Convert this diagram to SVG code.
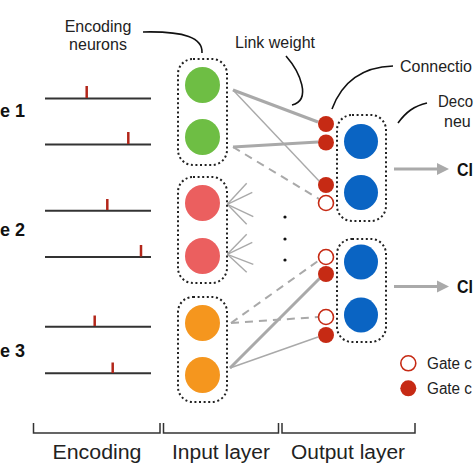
<svg xmlns="http://www.w3.org/2000/svg" width="474" height="474" viewBox="0 0 474 474">
<style>
text{font-family:"Liberation Sans",Arial,sans-serif;fill:#222}
.lbl{font-size:16px}
.big{font-size:20px}
.bold{font-weight:bold;font-size:18px;fill:#111}
.box{fill:none;stroke:#222;stroke-width:2;stroke-dasharray:2 2.6}
.train{stroke:#333;stroke-width:2}
.spike{stroke:#b3261a;stroke-width:2.5}
.thick{stroke:#a9a9a9;stroke-width:3;fill:none}
.thin{stroke:#a9a9a9;stroke-width:1.4;fill:none}
.dash{stroke:#a9a9a9;stroke-width:2;stroke-dasharray:8 6;fill:none}
.lead{stroke:#111;stroke-width:1.6;fill:none}
.gon{fill:#c62a14}
.goff{fill:#fff;stroke:#c62a14;stroke-width:1.6}
.brk{stroke:#333;stroke-width:1.5;fill:none}
</style>

<!-- side labels -->
<text class="bold" x="0" y="117">e 1</text>
<text class="bold" x="0" y="236">e 2</text>
<text class="bold" x="0" y="357">e 3</text>

<!-- spike trains -->
<g id="encoding">
<line class="train" x1="45" y1="98.5" x2="151" y2="98.5"/>
<line class="spike" x1="86.7" y1="86" x2="86.7" y2="98"/>
<line class="train" x1="45" y1="144.5" x2="151" y2="144.5"/>
<line class="spike" x1="128.3" y1="132" x2="128.3" y2="144"/>
<line class="train" x1="45" y1="210.7" x2="151" y2="210.7"/>
<line class="spike" x1="107.3" y1="199" x2="107.3" y2="210"/>
<line class="train" x1="45" y1="257" x2="151" y2="257"/>
<line class="spike" x1="141" y1="245" x2="141" y2="256.5"/>
<line class="train" x1="45" y1="326.7" x2="151" y2="326.7"/>
<line class="spike" x1="94.7" y1="315.5" x2="94.7" y2="326"/>
<line class="train" x1="45" y1="373.3" x2="151" y2="373.3"/>
<line class="spike" x1="112.7" y1="362.5" x2="112.7" y2="373"/>
</g>

<!-- connectors -->
<g id="connectors">
<line class="thick" x1="233" y1="90" x2="318" y2="122"/>
<line class="thin" x1="233" y1="90" x2="320" y2="182"/>
<line class="thick" x1="233" y1="147" x2="318" y2="142"/>
<line class="dash" x1="233" y1="147" x2="319" y2="199"/>
<line class="thin" x1="227.3" y1="204.3" x2="246.7" y2="183.3"/>
<line class="thin" x1="227.3" y1="204.3" x2="252.3" y2="192.3"/>
<line class="thin" x1="227.3" y1="204.3" x2="253.3" y2="216.7"/>
<line class="thin" x1="227.3" y1="204.3" x2="246.7" y2="224.3"/>
<line class="thin" x1="227.3" y1="254.3" x2="246.7" y2="234.3"/>
<line class="thin" x1="227.3" y1="254.3" x2="252.3" y2="242.3"/>
<line class="thin" x1="227.3" y1="254.3" x2="253.3" y2="264.3"/>
<line class="thin" x1="227.3" y1="254.3" x2="246.7" y2="272.3"/>
<line class="dash" x1="231" y1="323" x2="318" y2="261"/>
<line class="dash" x1="231" y1="323" x2="318" y2="317"/>
<line class="thick" x1="230" y1="368" x2="320" y2="278"/>
<line class="thin" x1="230" y1="368" x2="318" y2="337"/>
<line x1="394" y1="169" x2="439" y2="169" stroke="#aaa" stroke-width="3"/>
<polygon points="437,163 449,169 437,175" fill="#aaa"/>
<line x1="394" y1="286.5" x2="439" y2="286.5" stroke="#aaa" stroke-width="3"/>
<polygon points="437,280.5 449,286.5 437,292.5" fill="#aaa"/>
<circle cx="285" cy="217" r="1.6" fill="#111"/>
<circle cx="285" cy="239" r="1.6" fill="#111"/>
<circle cx="285" cy="260" r="1.6" fill="#111"/>
</g>

<!-- input layer -->
<g id="input-green">
<rect class="box" x="178" y="59" width="49" height="106" rx="15"/>
<ellipse cx="202.5" cy="85" rx="17.5" ry="18" fill="#6ebe44"/>
<ellipse cx="202.5" cy="137" rx="17.5" ry="18" fill="#6ebe44"/>
</g>
<g id="input-red">
<rect class="box" x="178" y="177" width="49" height="106" rx="15"/>
<ellipse cx="202.5" cy="203" rx="17.5" ry="18" fill="#eb5f5f"/>
<ellipse cx="202.5" cy="256" rx="17.5" ry="18" fill="#eb5f5f"/>
</g>
<g id="input-orange">
<rect class="box" x="178" y="297" width="49" height="105" rx="15"/>
<ellipse cx="202.5" cy="323" rx="17.5" ry="18" fill="#f5961e"/>
<ellipse cx="202.5" cy="375" rx="17.5" ry="18" fill="#f5961e"/>
</g>

<!-- gates -->
<g id="gates">
<circle class="gon" cx="326" cy="124" r="8"/>
<circle class="gon" cx="326" cy="142.5" r="8"/>
<circle class="gon" cx="326" cy="185" r="8"/>
<circle class="goff" cx="326" cy="203" r="7.5"/>
<circle class="goff" cx="326" cy="257" r="7.5"/>
<circle class="gon" cx="326" cy="274" r="8"/>
<circle class="goff" cx="326" cy="317" r="7.5"/>
<circle class="gon" cx="326" cy="335" r="8"/>
</g>

<!-- output layer -->
<g id="output-1">
<rect class="box" x="337" y="115" width="49" height="106" rx="15"/>
<ellipse cx="361" cy="141.5" rx="17" ry="17.5" fill="#0a64c3"/>
<ellipse cx="361" cy="192.5" rx="17" ry="17.5" fill="#0a64c3"/>
</g>
<g id="output-2">
<rect class="box" x="337" y="239" width="49" height="103" rx="15"/>
<ellipse cx="361" cy="262" rx="17" ry="17.5" fill="#0a64c3"/>
<ellipse cx="361" cy="315" rx="17" ry="17.5" fill="#0a64c3"/>
</g>

<text class="bold" x="457" y="176" textLength="16" lengthAdjust="spacingAndGlyphs">Cl</text>
<text class="bold" x="457" y="293" textLength="16" lengthAdjust="spacingAndGlyphs">Cl</text>

<!-- annotations -->
<g id="annotations">
<text class="lbl" x="98" y="31.7" text-anchor="middle">Encoding</text>
<text class="lbl" x="98" y="50" text-anchor="middle">neurons</text>
<path class="lead" d="M143,32 C185,31 203,38 202,53"/>
<text class="lbl" x="235" y="48">Link weight</text>
<path class="lead" d="M286,56 C300,72 312,100 292,105"/>
<text class="lbl" x="400" y="72.3" textLength="72" lengthAdjust="spacingAndGlyphs">Connectio</text>
<path class="lead" d="M332,109 C342,82 362,67 393,66"/>
<text class="lbl" x="438" y="107.3" textLength="35" lengthAdjust="spacingAndGlyphs">Deco</text>
<text class="lbl" x="444" y="126.7">neu</text>
<path class="lead" d="M398,123 C406,112 414,106 427,103"/>
</g>

<!-- legend -->
<g id="legend">
<circle class="goff" cx="408.3" cy="363.3" r="7.5"/>
<text class="lbl" x="427" y="369.3" textLength="45" lengthAdjust="spacingAndGlyphs">Gate c</text>
<circle class="gon" cx="408.3" cy="388.3" r="8"/>
<text class="lbl" x="427" y="394.3" textLength="45" lengthAdjust="spacingAndGlyphs">Gate c</text>
</g>

<!-- brackets -->
<g id="brackets">
<path class="brk" d="M33.5,423 V433 H160 V423"/>
<path class="brk" d="M163.5,423 V433 H278.5 V423"/>
<path class="brk" d="M282,423 V433 H415 V423"/>
<text class="big" x="97" y="459" text-anchor="middle" textLength="89" lengthAdjust="spacingAndGlyphs">Encoding</text>
<text class="big" x="221" y="459" text-anchor="middle" textLength="98" lengthAdjust="spacingAndGlyphs">Input layer</text>
<text class="big" x="348" y="459" text-anchor="middle" textLength="114" lengthAdjust="spacingAndGlyphs">Output layer</text>
</g>
</svg>
